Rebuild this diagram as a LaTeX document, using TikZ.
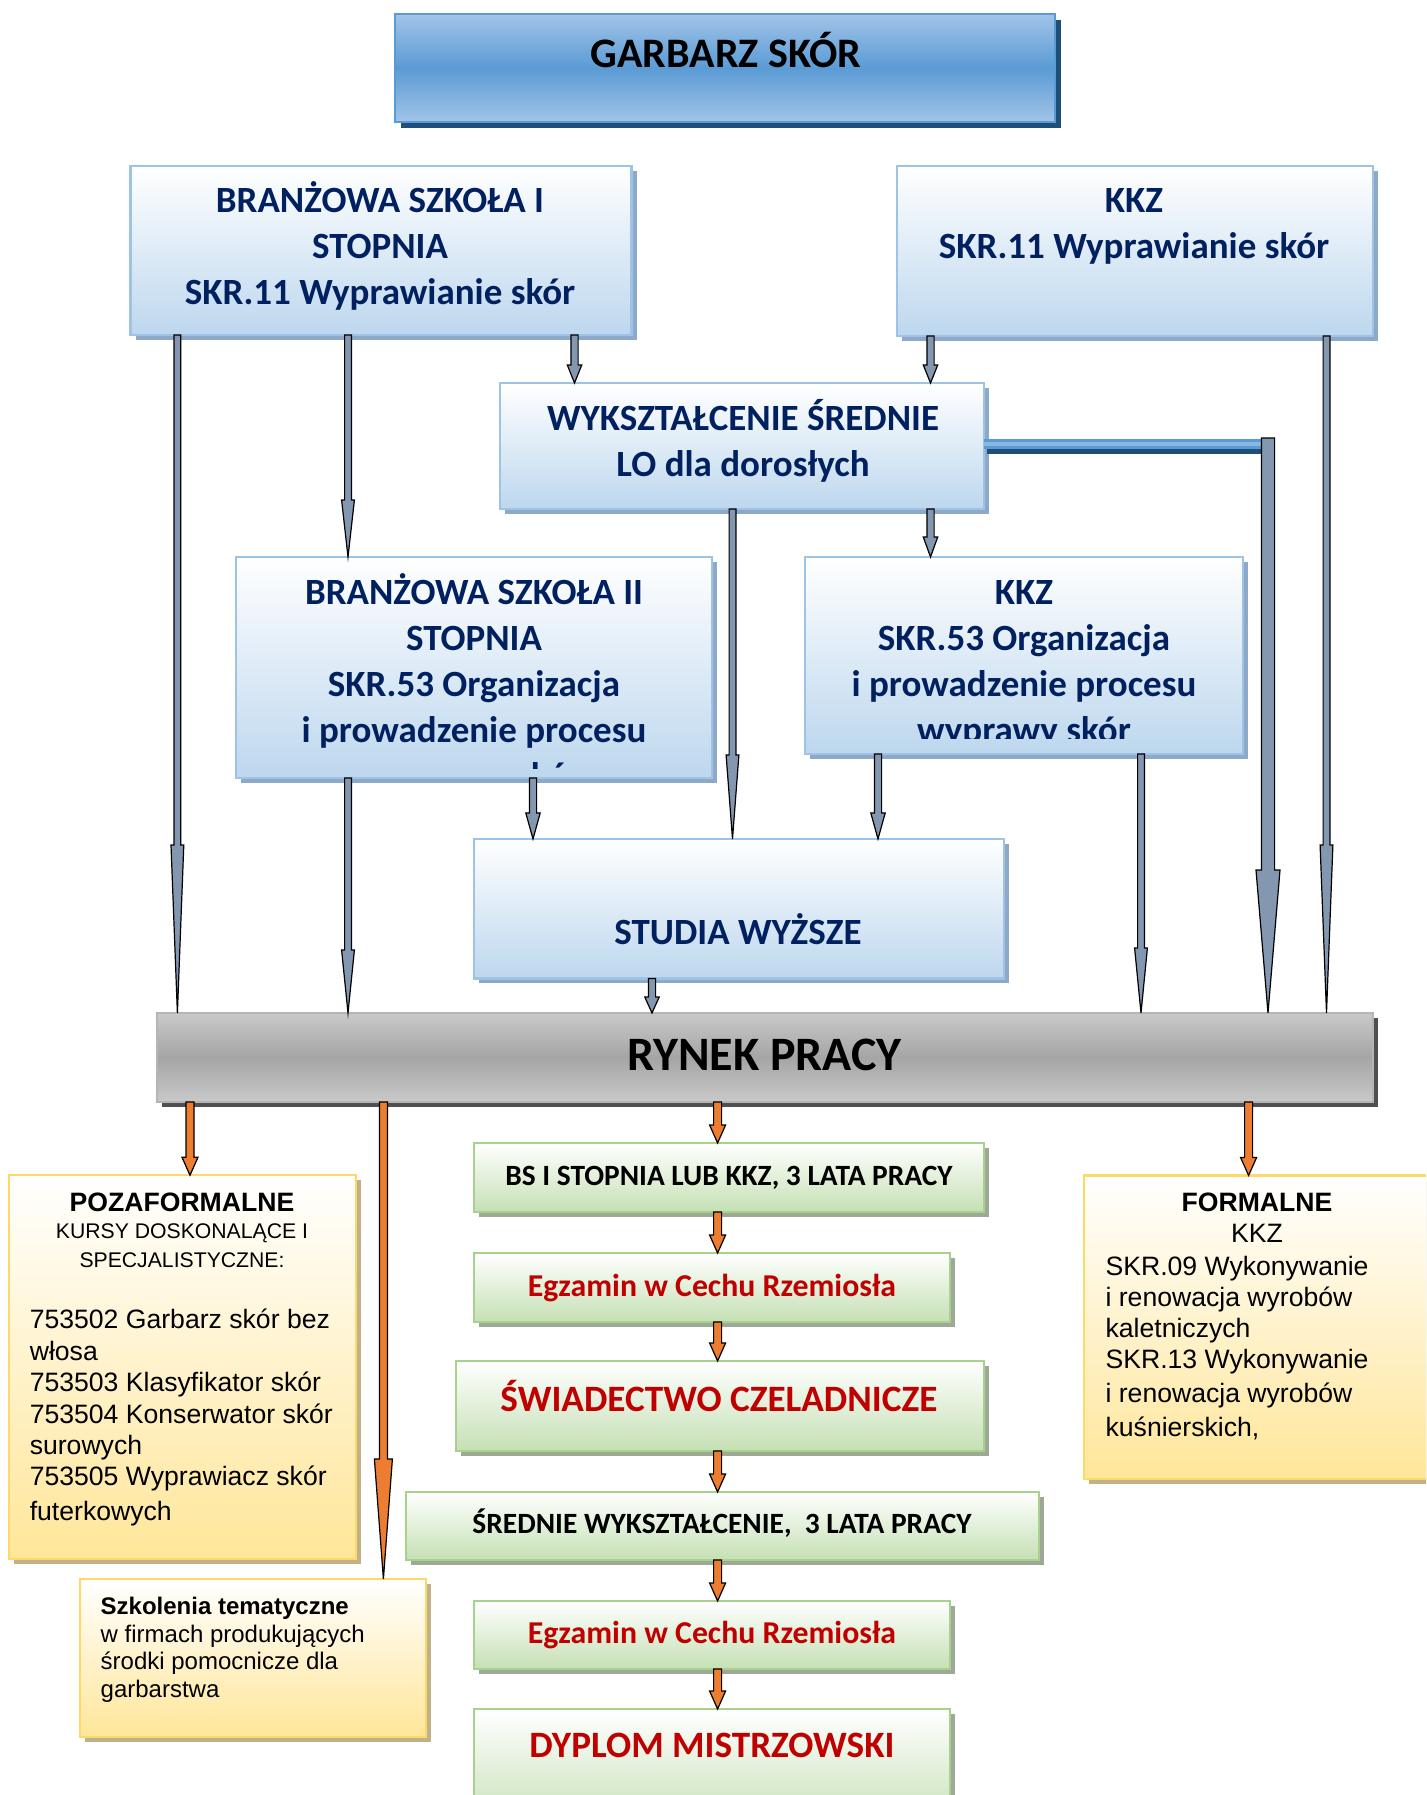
\documentclass[tikz,border=0pt]{standalone}
\usepackage{fontspec}
\setmainfont{Carlito}
\newfontfamily\arialf{Liberation Sans}
\usetikzlibrary{calc,shadows}
\definecolor{navy}{HTML}{002060}
\definecolor{bBorder}{HTML}{9DC3E6}
\definecolor{bBot}{HTML}{BDD7EE}
\definecolor{bShadow}{HTML}{8EA9C8}
\definecolor{tTop}{HTML}{A2C4E8}
\definecolor{tMid}{HTML}{5B9BD5}
\definecolor{tShadow}{HTML}{1F4E79}
\definecolor{gBorder}{HTML}{A9D18E}
\definecolor{gBot}{HTML}{C5E0B4}
\definecolor{gShadow}{HTML}{9DA896}
\definecolor{yBorder}{HTML}{FFD966}
\definecolor{yBot}{HTML}{FFE699}
\definecolor{yShadow}{HTML}{BFB28A}
\definecolor{rTop}{HTML}{C9C9C9}
\definecolor{rMid}{HTML}{A5A5A5}
\definecolor{rShadow}{HTML}{505050}
\definecolor{arrG}{HTML}{8497B0}
\definecolor{arrO}{HTML}{ED7D31}
\definecolor{redT}{HTML}{C00000}
% vertical block arrow: from, to, shaft half width, head half width, head length, style
\newcommand\varrow[6]{\path[#6] let \p1=(#1), \p2=(#2) in
  (\x1-#3,\y1) -- (\x1-#3,\y2+#5) -- (\x1-#4,\y2+#5) -- (\x1,\y2) --
  (\x1+#4,\y2+#5) -- (\x1+#3,\y2+#5) -- (\x1+#3,\y1) -- cycle;}
\begin{document}
\begin{tikzpicture}[x=0.5pt,y=-0.5pt,
  box/.style={inner sep=0pt, outer sep=0pt, line width=1.2pt},
  titlebox/.style={box, draw=tMid, top color=tTop, bottom color=tTop, middle color=tMid,
    drop shadow={shadow xshift=3pt, shadow yshift=-3pt, fill=tShadow, opacity=1}},
  bluebox/.style={box, draw=bBorder, top color=white, bottom color=bBot,
    drop shadow={shadow xshift=2.5pt, shadow yshift=-2.5pt, fill=bShadow, opacity=1}},
  graybox/.style={box, draw=rTop!90!black, top color=rTop, bottom color=rTop, middle color=rMid,
    drop shadow={shadow xshift=2.5pt, shadow yshift=-2.5pt, fill=rShadow, opacity=1}},
  greenbox/.style={box, draw=gBorder, top color=white, bottom color=gBot,
    drop shadow={shadow xshift=2.5pt, shadow yshift=-2.5pt, fill=gShadow, opacity=1}},
  yellowbox/.style={box, draw=yBorder, top color=white, bottom color=yBot,
    drop shadow={shadow xshift=2.5pt, shadow yshift=-2.5pt, fill=yShadow, opacity=1}},
  txt/.style={inner sep=0pt, outer sep=0pt},
  bluetxt/.style={txt, font=\bfseries\fontsize{18.5}{23}\selectfont, text=navy, align=center},
  blacktxt/.style={txt, font=\bfseries\fontsize{14.7}{18}\selectfont, text=black},
  redtxt/.style={txt, font=\bfseries\fontsize{15.9}{19}\selectfont, text=redT},
  bigredtxt/.style={txt, font=\bfseries\fontsize{18.6}{22}\selectfont, text=redT},
  ariallist/.style={txt, font=\arialf\fontsize{13.3}{15.7}\selectfont, align=left, anchor=west},
  garrow/.style={fill=arrG, draw=black, line width=0.6pt, line join=miter},
  oarrow/.style={fill=arrO, draw=black, line width=0.6pt, line join=miter}
]
\useasboundingbox (0,0) rectangle (1426,1795);
\clip (0,0) rectangle (1426,1795);

% ---------- boxes ----------
\node[titlebox, minimum width=330pt, minimum height=54pt] (title) at (725,68) {};
\node[bluebox, minimum width=250.5pt, minimum height=84.5pt] (bs1) at (381,250.5) {};
\node[bluebox, minimum width=238pt, minimum height=85pt] (kkz1) at (1135,251) {};
\node[bluebox, minimum width=242pt, minimum height=63pt] (wyk) at (742,446) {};
\node[bluebox, minimum width=238pt, minimum height=110.5pt] (bs2) at (474,667.5) {};
\node[bluebox, minimum width=219.25pt, minimum height=98.5pt] (kkz2) at (1024,655.5) {};
\node[bluebox, minimum width=265pt, minimum height=69.75pt] (studia) at (739,908.7) {};
\node[graybox, minimum width=608pt, minimum height=44.5pt] (rynek) at (765,1057.5) {};
\node[yellowbox, minimum width=173.5pt, minimum height=191.75pt] (poza) at (182.5,1367) {};
\node[yellowbox, minimum width=173pt, minimum height=79pt] (szk) at (253,1658) {};
\node[yellowbox, minimum width=188pt, minimum height=151.75pt] (formal) at (1272,1327.25) {};
\node[greenbox, minimum width=255pt, minimum height=34.5pt] (g1) at (729,1177.5) {};
\node[greenbox, minimum width=238pt, minimum height=34.5pt] (g2) at (712,1287.5) {};
\node[greenbox, minimum width=264.25pt, minimum height=45pt] (g3) at (720,1406) {};
\node[greenbox, minimum width=316.5pt, minimum height=34pt] (g4) at (722.5,1526) {};
\node[greenbox, minimum width=238pt, minimum height=34pt] (g5) at (712,1635) {};
\node[greenbox, minimum width=238pt, minimum height=60.5pt] (g6) at (712,1769.5) {};

% ---------- texts ----------
\node[txt, font=\bfseries\fontsize{21}{25}\selectfont] (titlet) at (726,49.5) {GARBARZ SKÓR};
\node[bluetxt] (bs1t) at (380,246) {BRANŻOWA SZKOŁA I\\STOPNIA\\SKR.11 Wyprawianie skór};
\node[bluetxt] (kkz1t) at (1134,226.5) {KKZ\\SKR.11 Wyprawianie skór};
\node[bluetxt] (wykt) at (743,441) {WYKSZTAŁCENIE ŚREDNIE\\LO dla dorosłych};
\begin{scope}
  \clip (bs2.north west) rectangle ($(bs2.south east)+(0,-10)$);
  \node[bluetxt] (bs2t) at (474,684) {BRANŻOWA SZKOŁA II\\STOPNIA\\SKR.53 Organizacja\\i prowadzenie procesu\\wyprawy skór};
\end{scope}
\begin{scope}
  \clip (kkz2.north west) rectangle ($(kkz2.south east)+(0,-16)$);
  \node[bluetxt] (kkz2t) at (1024,664.5) {KKZ\\SKR.53 Organizacja\\i prowadzenie procesu\\wyprawy skór};
\end{scope}
\node[bluetxt] (studiat) at (738,929) {STUDIA WYŻSZE};
\node[txt, font=\bfseries\fontsize{24}{28}\selectfont] (rynekt) at (764.5,1055) {RYNEK PRACY};
\node[blacktxt] (g1t) at (729,1177.5) {BS I STOPNIA LUB KKZ, 3 LATA PRACY};
\node[redtxt] (g2t) at (712,1288.5) {Egzamin w Cechu Rzemiosła};
\node[bigredtxt] (g3t) at (719,1395.5) {ŚWIADECTWO CZELADNICZE};
\node[blacktxt] (g4t) at (722,1523) {ŚREDNIE WYKSZTAŁCENIE,\ \ 3 LATA PRACY};
\node[redtxt] (g5t) at (712,1635) {Egzamin w Cechu Rzemiosła};
\node[bigredtxt] (g6t) at (712,1745) {DYPLOM MISTRZOWSKI};

\node[txt, font=\arialf\bfseries\fontsize{13.3}{16}\selectfont] (pozah1) at (182,1202) {POZAFORMALNE};
\node[txt, font=\arialf\fontsize{10.6}{13}\selectfont] (pozah2) at (182,1233.5) {KURSY DOSKONALĄCE I};
\node[txt, font=\arialf\fontsize{10.6}{13}\selectfont] (pozah3) at (182,1260) {SPECJALISTYCZNE:};
\node[ariallist] (pozal) at (29.8,1417.5) {753502 Garbarz skór bez\\włosa\\753503 Klasyfikator skór\\753504 Konserwator skór\\surowych\\753505 Wyprawiacz skór\\[1.5pt]futerkowych};
\node[txt, font=\arialf\fontsize{12}{13.75}\selectfont, align=left, anchor=west] (szkt) at (100.7,1650) {\textbf{Szkolenia tematyczne}\\w firmach produkujących\\środki pomocnicze dla\\garbarstwa};
\node[txt, font=\arialf\bfseries\fontsize{13.3}{16}\selectfont] (formh1) at (1257,1202) {FORMALNE};
\node[txt, font=\arialf\fontsize{13.3}{16}\selectfont] (formh2) at (1257,1233.6) {KKZ};
\node[ariallist, font=\arialf\fontsize{13.3}{15.5}\selectfont] (forml) at (1105.6,1348) {SKR.09 Wykonywanie\\i renowacja wyrobów\\kaletniczych\\SKR.13 Wykonywanie\\[1.7pt]i renowacja wyrobów\\[1.7pt]kuśnierskich,};

% ---------- arrow x positions ----------
\coordinate (xa) at (177.4,0);
\coordinate (xb) at (348,0);
\coordinate (xc) at (574.5,0);
\coordinate (xd) at (930.5,0);
\coordinate (xe) at (1326.5,0);
\coordinate (xg) at (732.5,0);
\coordinate (xh) at (533,0);
\coordinate (xi) at (878,0);
\coordinate (xj) at (1141,0);
\coordinate (xk) at (652,0);
\coordinate (kink) at (1268,438);
\coordinate (xo1) at (190,0);
\coordinate (xo2) at (383.4,0);
\coordinate (xo3) at (717.6,0);
\coordinate (xo4) at (1248.6,0);

% ---------- upper arrows ----------
\varrow{xa |- bs1.south}{xa |- rynek.north}{1.7pt}{3.2pt}{84pt}{garrow}
\varrow{xb |- bs1.south}{xb |- bs2.north}{1.7pt}{3.2pt}{28.5pt}{garrow}
\varrow{xc |- bs1.south}{xc |- wyk.north}{1.8pt}{3.6pt}{9pt}{garrow}
\varrow{xd |- kkz1.south}{xd |- wyk.north}{1.8pt}{3.6pt}{9pt}{garrow}
\varrow{xe |- kkz1.south}{xe |- rynek.north}{1.7pt}{3.2pt}{84pt}{garrow}
\varrow{xg |- wyk.south}{xg |- studia.north}{1.7pt}{3.2pt}{42pt}{garrow}
\varrow{xd |- wyk.south}{xd |- kkz2.north}{1.8pt}{3.6pt}{10pt}{garrow}
\varrow{xb |- bs2.south}{xb |- rynek.north}{1.7pt}{3.2pt}{31.5pt}{garrow}
\varrow{xh |- bs2.south}{xh |- studia.north}{1.8pt}{3.6pt}{13pt}{garrow}
\varrow{xi |- kkz2.south}{xi |- studia.north}{1.8pt}{3.6pt}{13pt}{garrow}
\varrow{xj |- kkz2.south}{xj |- rynek.north}{1.7pt}{3.2pt}{32.5pt}{garrow}
\varrow{xk |- studia.south}{xk |- rynek.north}{1.8pt}{3.6pt}{8pt}{garrow}
% bent connector from WYKSZTALCENIE
\draw[line width=5pt, tShadow, transform canvas={xshift=1.5pt, yshift=-2.5pt}] (wyk.east |- kink) ++(0,6) -- ++(280,0);
\draw[line width=5pt, tMid] (wyk.east |- kink) ++(0,6) -- ($(kink)+(0,6)$);
\draw[line width=1.6pt, bBorder!70!tMid] (wyk.east |- kink) ++(0,6) -- ($(kink)+(0,6)$);
\varrow{kink}{kink |- rynek.north}{3.3pt}{6pt}{71.5pt}{garrow}

% ---------- lower (orange) arrows ----------
\varrow{xo1 |- rynek.south}{xo1 |- poza.north}{2pt}{4pt}{9pt}{oarrow}
\varrow{xo2 |- rynek.south}{xo2 |- szk.north}{2pt}{4.5pt}{60pt}{oarrow}
\varrow{xo3 |- rynek.south}{xo3 |- g1.north}{2pt}{4pt}{9pt}{oarrow}
\varrow{xo4 |- rynek.south}{xo4 |- formal.north}{2pt}{4pt}{9pt}{oarrow}
\varrow{xo3 |- g1.south}{xo3 |- g2.north}{2pt}{4pt}{9pt}{oarrow}
\varrow{xo3 |- g2.south}{xo3 |- g3.north}{2pt}{4pt}{9pt}{oarrow}
\varrow{xo3 |- g3.south}{xo3 |- g4.north}{2pt}{4pt}{9pt}{oarrow}
\varrow{xo3 |- g4.south}{xo3 |- g5.north}{2pt}{4pt}{9pt}{oarrow}
\varrow{xo3 |- g5.south}{xo3 |- g6.north}{2pt}{4pt}{9pt}{oarrow}
\end{tikzpicture}
\end{document}
